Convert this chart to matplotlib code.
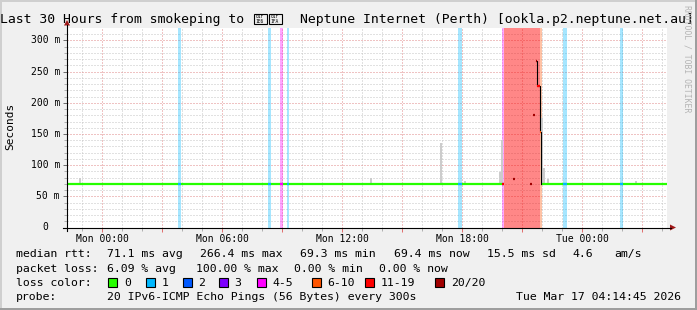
import matplotlib
matplotlib.use('Agg')
import matplotlib.pyplot as plt
from matplotlib.patches import Rectangle, Polygon
from matplotlib.lines import Line2D
import numpy as np

W, H = 697, 310
MONO = ['DejaVu Sans Mono', 'DejaVu Sans']

# time in hours relative to Mon 00:00, 30 hour window ending Tue 04:14:45
t_end = 28.246
t_start = t_end - 30
y_max = 320

loss_names = ['0', '1', '2', '3', '4-5', '6-10', '11-19', '20/20']
loss_colors = ['#26ff00', '#00b8ff', '#0059ff', '#7e00ff', '#ff00ff', '#ff5500', '#ff0000', '#a10000']
loss_col = dict(zip(loss_names, loss_colors))

# periods with packet loss (hours)
band_start = [3.80, 8.32, 8.90, 9.23, 17.82, 19.98, 20.10, 21.90, 23.07, 25.90]
band_end = [3.93, 8.45, 9.03, 9.37, 17.98, 20.10, 21.90, 22.00, 23.23, 26.03]
band_loss = ['1', '1', '4-5', '1', '1', '4-5', '11-19', '6-10', '1', '1']

median_now = 69.4

# smoke: spread of the 20 pings where it shows above the median
smoke_t = [-1.1, -0.4, 2.75, 5.15, 13.45, 16.95, 18.15, 19.92, 20.0, 21.98, 22.1, 22.28, 26.7]
smoke_lo = [69, 69, 69, 69, 69, 69, 69, 69, 69, 69, 69, 69, 69]
smoke_hi = [79, 72, 71, 71, 80, 135, 74, 89, 140, 175, 95, 77, 74]

# single medians inside the outage
dot_t = [20.02, 20.55, 21.38, 21.55]
dot_ms = [69.4, 77.0, 69.0, 180.7]
dot_loss = ['11-19', '20/20', '20/20', '20/20']

# recovery at the end of the outage
spike_t = [21.68, 21.74, 21.88, 21.95]
spike_ms = [266.4, 227.0, 153.0, 69.4]
spike_loss = ['20/20', '11-19', '6-10', '0']

xtick_hours = [0, 6, 12, 18, 24]
xtick_labels = ['Mon 00:00', 'Mon 06:00', 'Mon 12:00', 'Mon 18:00', 'Tue 00:00']
ytick_ms = [0, 50, 100, 150, 200, 250, 300]
ytick_labels = ['0', '50 m', '100 m', '150 m', '200 m', '250 m', '300 m']

rtt_stats = ['71.1 ms avg', '266.4 ms max', '69.3 ms min', '69.4 ms now', '15.5 ms sd', '4.6', 'am/s']
loss_stats = ['6.09 % avg', '100.00 % max', '0.00 % min', '0.00 % now']
probe_text = '20 IPv6-ICMP Echo Pings (56 Bytes) every 300s'
stamp = 'Tue Mar 17 04:14:45 2026'
title_left = 'Last 30 Hours from smokeping to'
title_right = 'Neptune Internet (Perth) [ookla.p2.neptune.net.au]'
# the flag (U+1F1E6 U+1F1FA) has no glyph in any installed font: drawn as hex boxes
flag_hex = ['01F\n1E6', '01F\n1FA']


def fx(x):
    return x / W


def fy(y):
    return 1 - y / H


fig = plt.figure(figsize=(W / 100, H / 100), dpi=100, facecolor='#f0f0f0')


def px_rect(x, y, w, h, **kw):
    fig.add_artist(Rectangle((fx(x), fy(y + h)), w / W, h / H,
                             transform=fig.transFigure, **kw))


def px_text(x, y, s, **kw):
    kw.setdefault('family', MONO)
    kw.setdefault('va', 'center')
    fig.text(fx(x), fy(y), s, **kw)


# frame shading
px_rect(0, 0, W, 2, color='#cfcfcf', lw=0)
px_rect(0, 0, 2, H, color='#cfcfcf', lw=0)
px_rect(0, H - 2, W, 2, color='#9e9e9e', lw=0)
px_rect(W - 2, 0, 2, H, color='#9e9e9e', lw=0)

x0, x1 = 67, 667
ybot, ytop = 227.5, 28
ax = fig.add_axes([fx(x0), fy(ybot), (x1 - x0) / W, (ybot - ytop) / H])
ax.set_xlim(t_start, t_end)
ax.set_ylim(0, y_max)
ax.set_facecolor('white')
for s in ax.spines.values():
    s.set_visible(False)

# grid
dot = (0, (1, 2))
hours = np.arange(np.ceil(t_start), t_end)
for h in hours:
    major = h % 3 == 0
    ax.axvline(h, color='#e08888' if major else '#c4c4c4', lw=0.72, ls=dot, zorder=1)
for v in range(10, y_max, 10):
    major = v % 50 == 0
    ax.axhline(v, color='#e08888' if major else '#c4c4c4', lw=0.72, ls=dot, zorder=1)

# loss bands
for a, b, l in zip(band_start, band_end, band_loss):
    alpha = 0.47 if l in ('11-19', '20/20') else 0.35
    ax.axvspan(a, b, color=loss_col[l], alpha=alpha, lw=0, zorder=2)

# smoke
ax.bar(smoke_t, np.subtract(smoke_hi, smoke_lo), bottom=smoke_lo, width=0.1,
       color='#cccccc', lw=0, zorder=3)

# median line
ax.hlines(median_now, t_start, band_end[band_loss.index('11-19') - 1],
          color=loss_col['0'], lw=1.6, zorder=4)
ax.hlines(median_now, spike_t[-1], t_end, color=loss_col['0'], lw=1.6, zorder=4)
for a, b, l in zip(band_start, band_end, band_loss):
    if l in ('1', '2', '3', '4-5'):
        ax.hlines(median_now, a, b, color=loss_col[l], lw=1.6, zorder=5)
for t, v, l in zip(dot_t, dot_ms, dot_loss):
    ax.hlines(v, t, t + 0.1, color=loss_col[l], lw=1.6, zorder=5)
ax.step(spike_t, spike_ms, where='post', color='black', lw=0.8, zorder=5)
for i in range(len(spike_t) - 1):
    ax.hlines(spike_ms[i], spike_t[i], spike_t[i + 1], color=loss_col[spike_loss[i]],
              lw=1.6, zorder=6)

# ticks
major_h = hours[hours % 3 == 0]
ax.set_xticks(major_h,
              labels=[xtick_labels[xtick_hours.index(int(h))] if int(h) in xtick_hours else ''
                      for h in major_h])
ax.set_xticks(hours, minor=True)
ax.tick_params(axis='x', which='major', length=3, width=0.72, color='#e07070', pad=1.5,
               labelsize=7, labelcolor='black')
ax.tick_params(axis='x', which='minor', length=2, width=0.72, color='#b0b0b0')
for lab in ax.get_xticklabels():
    lab.set_family(MONO)
ax.set_yticks(ytick_ms, labels=[''] * len(ytick_ms))
ax.set_yticks(range(0, y_max, 10), minor=True)
ax.tick_params(axis='y', which='major', length=3, width=0.72, color='#707070')
ax.tick_params(axis='y', which='minor', length=2, width=0.72, color='#b0b0b0')
for v, s in zip(ytick_ms, ytick_labels):
    xr = 60 if s != '0' else 48.5
    ax.text((xr - x0) / (x1 - x0), v, s, transform=ax.get_yaxis_transform(),
            ha='right', va='center', fontsize=7, family=MONO)

# axes with arrows
fig.add_artist(Line2D([fx(63), fx(671)], [fy(ybot), fy(ybot)], color='black', lw=0.8))
fig.add_artist(Line2D([fx(x0), fx(x0)], [fy(231), fy(25)], color='black', lw=0.8))
fig.add_artist(Polygon([(fx(670), fy(ybot - 3)), (fx(676), fy(ybot)), (fx(670), fy(ybot + 3))],
                       closed=True, transform=fig.transFigure, color='#a01818', lw=0))
fig.add_artist(Polygon([(fx(x0 - 3), fy(25.5)), (fx(x0), fy(20)), (fx(x0 + 3), fy(25.5))],
                       closed=True, transform=fig.transFigure, color='#a01818', lw=0))

# title
px_text(244.5, 23.3, title_left, ha='right', va='baseline', fontsize=9.45)
px_text(299.5, 23.3, title_right, ha='left', va='baseline', fontsize=9.45)
for bx, hx in zip([253.5, 268.5], flag_hex):
    px_rect(bx, 14, 13, 10, facecolor='none', edgecolor='black', lw=0.8)
    px_text(bx + 6.5, 19, hx, ha='center', fontsize=3.3, linespacing=1.0)

px_text(10, 126.5, 'Seconds', ha='center', rotation=90, fontsize=8)
px_text(687.3, 5, 'RRDTOOL / TOBI OETIKER', ha='center', va='top', rotation=270,
        fontsize=5.9, color='#b4b4b4')

# legend
rows = [254.4, 268.6, 282.8, 297.0]
px_text(16, rows[0], 'median rtt:', fontsize=8.25)
for x, s in zip([107.3, 200, 300.3, 393.7, 487.3, 572.3, 614], rtt_stats):
    px_text(x, rows[0], s, fontsize=8.25)
px_text(16, rows[1], 'packet loss:', fontsize=8.25)
for x, s in zip([107.3, 196, 293.7, 378.7], loss_stats):
    px_text(x, rows[1], s, fontsize=8.25)
px_text(16, rows[2], 'loss color:', fontsize=8.25)
for x, l, c in zip([108.3, 146, 182.7, 219, 257, 312, 365.3, 435.3], loss_names, loss_colors):
    px_rect(x, rows[2] - 4.5, 9, 9, facecolor=c, edgecolor='black', lw=0.8)
    px_text(x + 15.7, rows[2], l, fontsize=8.25)
px_text(16, rows[3], 'probe:', fontsize=8.25)
px_text(107.3, rows[3], probe_text, fontsize=8.25)
px_text(680.7, rows[3], stamp, ha='right', fontsize=8.25)

fig.savefig('out.png', dpi=100, facecolor=fig.get_facecolor())
